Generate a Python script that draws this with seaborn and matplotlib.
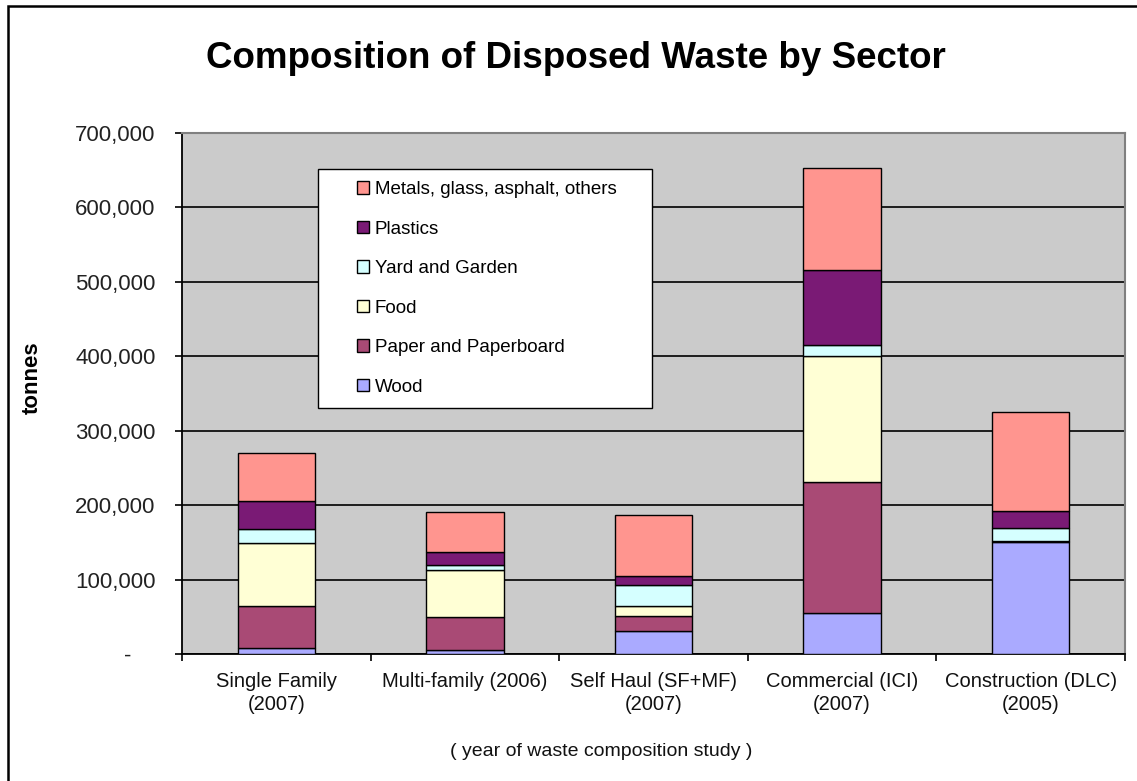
import matplotlib
matplotlib.use("Agg")
import matplotlib.pyplot as plt
from matplotlib.patches import Patch, Rectangle
from matplotlib.legend_handler import HandlerPatch
from matplotlib.ticker import FuncFormatter, FixedLocator
import seaborn as sns
import numpy as np

# Disposed waste by sector, tonnes per material
sectors = ["Single Family\n(2007)", "Multi-family (2006)", "Self Haul (SF+MF)\n(2007)",
           "Commercial (ICI)\n(2007)", "Construction (DLC)\n(2005)"]
materials = ["Wood", "Paper and Paperboard", "Food", "Yard and Garden", "Plastics",
             "Metals, glass, asphalt, others"]
wood = [7700, 5400, 30500, 55500, 150000]
paper = [57200, 44700, 20600, 175100, 1500]
food = [83800, 62300, 13800, 169300, 500]
yard = [18800, 7600, 28200, 15300, 17900]
plastics = [38100, 17000, 11700, 101100, 22900]
metals = [64900, 53800, 82000, 137100, 133000]
colors = ["#AAAAFF", "#A94A75", "#FFFFD5", "#D5FFFF", "#7A1A75", "#FF958F"]

series = [wood, paper, food, yard, plastics, metals]

plt.rcParams["font.family"] = ["Liberation Sans", "DejaVu Sans"]

fig = plt.figure(figsize=(11.37, 7.81), dpi=100)
ax = fig.add_axes([182 / 1137, 1 - 654 / 781, 943 / 1137, 521 / 781])
ax.set_facecolor("#CBCBCB")

bottom = np.zeros(len(sectors))
for vals, col in zip(series, colors):
    sns.barplot(x=sectors, y=vals, bottom=bottom, color=col, edgecolor="black",
                linewidth=1.0, width=0.41, errorbar=None, saturation=1, ax=ax, zorder=3)
    bottom = bottom + np.array(vals)

ax.set_ylim(0, 700000)
ax.set_xlim(-0.5, len(sectors) - 0.5)
ax.set_yticks(np.arange(0, 700001, 100000))
ax.yaxis.set_major_formatter(FuncFormatter(lambda v, p: "-    " if v == 0 else f"{v:,.0f}"))
ax.grid(axis="y", color="black", linewidth=1.2, zorder=1)
ax.set_axisbelow(True)

ax.set_xticks(range(len(sectors)))
ax.set_xticklabels(sectors, fontsize=14.5, color="#111111", linespacing=1.25)
ax.xaxis.set_minor_locator(FixedLocator(np.arange(-0.5, len(sectors), 1.0)))
ax.tick_params(axis="x", which="major", length=0, pad=13)
ax.tick_params(axis="x", which="minor", length=5, width=1.2, color="black")
ax.tick_params(axis="y", length=5, width=1.2, color="black", pad=14,
               labelsize=16, labelcolor="#222222")
ax.set_xlabel("")
ax.set_ylabel("")

for side in ["left", "bottom"]:
    ax.spines[side].set_color("black")
    ax.spines[side].set_linewidth(1.3)
for side in ["top", "right"]:
    ax.spines[side].set_color("#808080")
    ax.spines[side].set_linewidth(1.5)


def small_square(legend, orig_handle, xdescent, ydescent, width, height, fontsize):
    # square swatch drawn at the right end of an indented handle box
    side = height
    return Rectangle((-xdescent + width - side, -ydescent), side, side)


handles = [Patch(facecolor=c, edgecolor="black", linewidth=1.0) for c in colors]
leg = ax.legend(handles[::-1], materials[::-1],
                loc="upper left",
                bbox_to_anchor=(136 / 943, 247 / 521, 334 / 943, 238 / 521),
                mode="expand", fontsize=13.5, frameon=True, fancybox=False,
                edgecolor="black", framealpha=1, facecolor="white",
                handlelength=2.08, handleheight=0.65, handletextpad=0.3,
                labelspacing=1.2, borderpad=0.65, borderaxespad=0,
                handler_map={Patch: HandlerPatch(patch_func=small_square)})
leg.get_frame().set_linewidth(1.0)
leg.set_zorder(5)

fig.text(576 / 1137, 1 - 58 / 781, "Composition of Disposed Waste by Sector",
         ha="center", va="center", fontsize=26.5, fontweight="bold", color="black")
fig.text(32 / 1137, 1 - 378 / 781, "tonnes", rotation=90, ha="center", va="center",
         fontsize=16, fontweight="bold", color="black")
fig.text(601 / 1137, 1 - 752 / 781, "( year of waste composition study )",
         ha="center", va="center", fontsize=14, color="#111111")

# outer chart frame, open on the right and bottom
fig.patches.append(Rectangle((8 / 1137, -0.05), 1.1, 1 - 6 / 781 + 0.05,
                             transform=fig.transFigure, fill=False,
                             edgecolor="black", linewidth=1.8))

fig.savefig("out.png", dpi=100, facecolor="white")
